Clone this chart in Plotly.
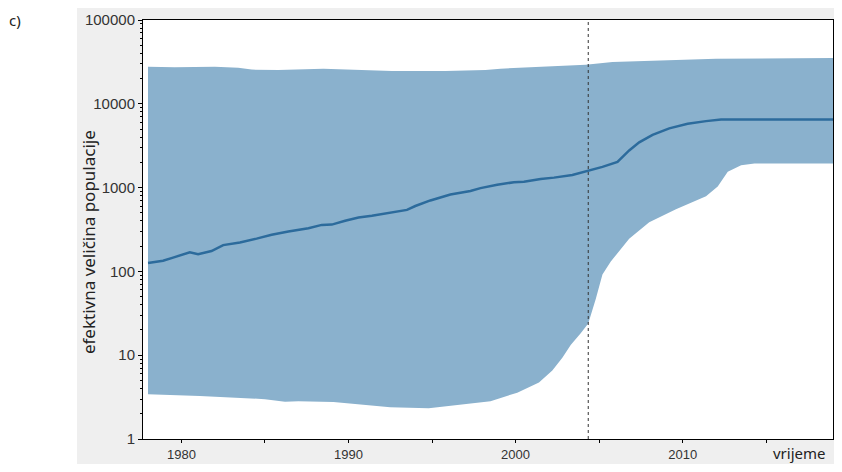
import plotly.graph_objects as go

# Median effective population size (line)
median_years = [1978.0, 1978.9, 1979.5, 1980.5, 1981.0, 1981.8, 1982.5, 1983.5, 1984.5, 1985.4,
                1986.4, 1987.6, 1988.4, 1989.0, 1989.8, 1990.6, 1991.4, 1992.6, 1993.5, 1994.0,
                1994.9, 1996.1, 1997.3, 1997.9, 1998.9, 1999.9, 2000.5, 2001.5, 2002.3, 2003.4,
                2004.3, 2005.2, 2006.1, 2006.8, 2007.4, 2008.2, 2009.2, 2010.3, 2011.4, 2012.3,
                2019.0]
median_vals = [126, 134, 146, 169, 160, 175, 206, 221, 246, 274,
               300, 328, 359, 362, 403, 440, 461, 504, 542, 603,
               703, 826, 910, 986, 1081, 1159, 1172, 1270, 1315, 1415,
               1575, 1769, 2024, 2773, 3467, 4266, 5096, 5780, 6213, 6487,
               6487]

# Upper bound of the credible interval
upper_years = [1978.0, 1979.6, 1982.0, 1983.4, 1984.2, 1985.8, 1988.5, 1989.9, 1992.6, 1995.8,
               1998.2, 1999.1, 2001.2, 2004.2, 2005.8, 2009.3, 2012.0, 2019.0]
upper_vals = [27700, 27300, 27700, 26980, 25580, 25350, 26240, 25580, 24700, 24700,
              25350, 26240, 27300, 29240, 31470, 33200, 34370, 35320]

# Lower bound of the credible interval
lower_years = [1978.0, 1981.1, 1985.0, 1986.2, 1987.0, 1989.1, 1992.5, 1994.8, 1996.8, 1998.5,
               2000.1, 2001.4, 2002.2, 2002.8, 2003.3, 2003.9, 2004.35, 2004.8, 2005.2, 2005.7,
               2006.8, 2008.0, 2009.6, 2011.4, 2012.1, 2012.7, 2013.5, 2014.3, 2019.0]
lower_vals = [3.42, 3.27, 2.99, 2.78, 2.83, 2.76, 2.40, 2.33, 2.58, 2.83,
              3.57, 4.72, 6.57, 9.33, 13.2, 18.3, 23.9, 46.9, 91.8, 131,
              246, 385, 552, 789, 1033, 1545, 1853, 1933, 1933]

marker_year = 2004.35

x_tick_vals = [1980, 1990, 2000, 2010]
x_tick_text = ["1980", "1990", "2000", "2010"]
x_minor_vals = [1985, 1995, 2005, 2015]
y_tick_vals = [1, 10, 100, 1000, 10000, 100000]
y_tick_text = ["1", "10", "100", "1000", "10000", "100000"]
y_minor_vals = [m * 10 ** e for e in range(0, 5) for m in range(2, 10)]

BAND = "#8ab1cd"
LINE = "#2c6b9c"
YTICKFONT = dict(family="Liberation Sans, Arial, sans-serif", size=15, color="#333333")
XTICKFONT = dict(family="Liberation Sans, Arial, sans-serif", size=13, color="#333333")
TEXTFONT = dict(family="Noto Sans, Open Sans, sans-serif", size=15, color="#222222")

fig = go.Figure()
fig.add_trace(go.Scatter(
    x=upper_years + lower_years[::-1],
    y=upper_vals + lower_vals[::-1],
    fill="toself", fillcolor=BAND, mode="lines",
    line=dict(width=0, color=BAND), hoverinfo="skip", showlegend=False,
))
fig.add_trace(go.Scatter(
    x=median_years, y=median_vals, mode="lines",
    line=dict(color=LINE, width=2.5), showlegend=False,
))

fig.add_shape(type="line", xref="x", yref="paper", x0=marker_year, x1=marker_year, y0=0, y1=1,
              line=dict(color="#333333", width=1, dash="dot"))

# white strip left of the grey panel
fig.add_shape(type="rect", xref="paper", yref="paper", x0=-0.2, x1=-0.0957, y0=-0.07, y1=1.05,
              fillcolor="white", line=dict(width=0), layer="below")

fig.add_annotation(text="c)", xref="paper", yref="paper", x=-0.1855, y=1.0, showarrow=False,
                   xanchor="center", yanchor="middle", font=TEXTFONT)
fig.add_annotation(text="vrijeme", xref="paper", yref="paper", x=0.952, y=-0.033,
                   showarrow=False, xanchor="center", yanchor="middle", font=TEXTFONT)
fig.add_annotation(text="efektivna veličina populacije", xref="paper", yref="paper",
                   x=-0.0797, y=0.470, textangle=-90, showarrow=False,
                   xanchor="center", yanchor="middle",
                   font=dict(family="Noto Sans, Open Sans, sans-serif", size=17, color="#222222"))

fig.update_xaxes(
    range=[1977.7, 2019.0], showline=True, linecolor="black", linewidth=1, mirror=True,
    showgrid=False, zeroline=False, ticks="outside", ticklen=3, tickcolor="black",
    tickvals=x_tick_vals, ticktext=x_tick_text, tickfont=XTICKFONT, automargin=False,
    minor=dict(tickvals=x_minor_vals, ticks="outside", ticklen=3, tickcolor="black", showgrid=False),
)
fig.update_yaxes(
    type="log", range=[0, 5], showline=True, linecolor="black", linewidth=1, mirror=True,
    showgrid=False, zeroline=False, ticks="outside", ticklen=4, tickcolor="black",
    tickvals=y_tick_vals, ticktext=y_tick_text, tickfont=YTICKFONT, automargin=False,
    minor=dict(tickvals=y_minor_vals, ticks="outside", ticklen=2, tickcolor="black", showgrid=False),
)
fig.update_layout(
    width=826, height=456,
    margin=dict(l=135, r=1, t=12, b=25),
    paper_bgcolor="#efefef", plot_bgcolor="white",
)
fig.write_html("out.html")
